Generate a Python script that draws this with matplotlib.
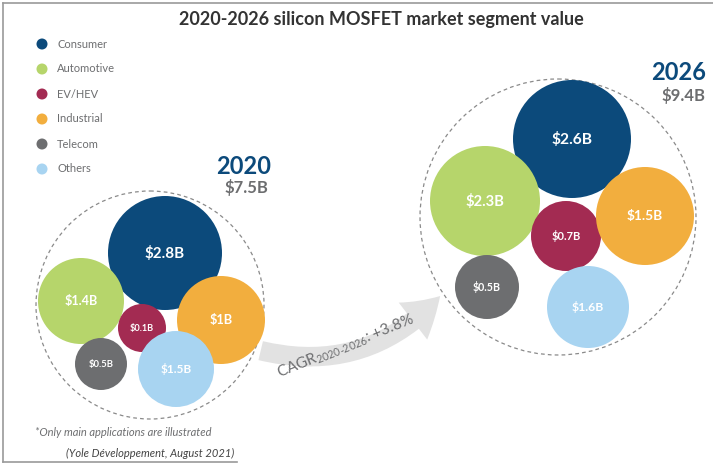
"""
2020-2026 silicon MOSFET market segment value - bubble infographic
"""

import matplotlib
matplotlib.use('Agg')
import matplotlib.pyplot as plt
from matplotlib.patches import Circle, FancyArrowPatch

# Data
segments = ['Consumer', 'Automotive', 'EV/HEV', 'Industrial', 'Telecom', 'Others']
colors = ['#0c4a7b', '#b6d56b', '#a32b52', '#f2ae3e', '#6d6e70', '#a8d4f1']
values_2020 = [2.8, 1.4, 0.1, 1.0, 0.5, 1.5]
values_2026 = [2.6, 2.3, 0.7, 1.5, 0.5, 1.6]
labels_2020 = ['$2.8B', '$1.4B', '$0.1B', '$1B', '$0.5B', '$1.5B']
labels_2026 = ['$2.6B', '$2.3B', '$0.7B', '$1.5B', '$0.5B', '$1.6B']
total_2020 = '$7.5B'
total_2026 = '$9.4B'
cagr = '+3.8%'

# Layout (pixel space, infographic bubbles are not to scale)
centers_2020 = [(165, 253), (81, 301), (142, 328), (221, 320), (101, 364), (176, 369)]
radii_2020 = [57, 43, 24, 44, 26, 38]
centers_2026 = [(572, 139), (485, 201), (566, 236), (645, 216), (487, 287), (588, 307)]
radii_2026 = [59, 55, 35, 49, 32, 41]

W, H = 713, 469
fig = plt.figure(figsize=(W / 100, H / 100), dpi=100)
ax = fig.add_axes([0, 0, 1, 1])
ax.set_xlim(0, W)
ax.set_ylim(H, 0)
ax.axis('off')

FONT = 'Lato'
GREY = '#6d6e70'
DARK = '#0c4a7b'

# Frame
ax.plot([3, 3], [3, 462], color='#9a9a9a', lw=1.2)
ax.plot([3, W], [3, 3], color='#9a9a9a', lw=1.2)
ax.plot([3, 237], [462, 462], color='#9a9a9a', lw=1.2)

# Title
ax.text(381, 20, '2020-2026 silicon MOSFET market segment value', ha='center', va='center',
        fontsize=13, fontweight='bold', color='#333333', family=FONT)

# Legend
for i, (seg, col) in enumerate(zip(segments, colors)):
    y = 44 + i * 25
    ax.add_patch(Circle((42, y), 5.5, color=col, lw=0))
    ax.text(57, y, seg, ha='left', va='center', fontsize=8, color=GREY, family=FONT)


def draw_group(centers, radii, labels, big_center, big_r):
    ax.add_patch(Circle(big_center, big_r, fill=False, ec='#8a8a8a', lw=0.9,
                        ls=(0, (3, 2.5))))
    for (cx, cy), r, lab, col in zip(centers, radii, labels, colors):
        ax.add_patch(Circle((cx, cy), r, color=col, lw=0))
        ax.text(cx, cy, lab, ha='center', va='center', color='white',
                fontsize=3.5 + r * 0.13, fontweight='bold', family=FONT)


draw_group(centers_2020, radii_2020, labels_2020, (150, 305), 114)
draw_group(centers_2026, radii_2026, labels_2026, (558, 217), 138)

# Year headers
ax.text(271, 166, '2020', ha='right', va='center', fontsize=17, fontweight='bold',
        color=DARK, family=FONT)
ax.text(268, 188, total_2020, ha='right', va='center', fontsize=12, fontweight='bold',
        color=GREY, family=FONT)
ax.text(706, 72, '2026', ha='right', va='center', fontsize=17, fontweight='bold',
        color=DARK, family=FONT)
ax.text(705, 96, total_2026, ha='right', va='center', fontsize=12, fontweight='bold',
        color=GREY, family=FONT)

# CAGR arrow
arrow = FancyArrowPatch((258, 350), (442, 294), connectionstyle='arc3,rad=0.3',
                        arrowstyle='simple,head_length=1.9,head_width=2.4,tail_width=1.0',
                        mutation_scale=14, color='#e2e2e2', lw=0, zorder=1)
ax.add_patch(arrow)
ax.text(346, 346, r'CAGR$_{\mathregular{2020\text{-}2026}}$: ' + cagr, ha='center', va='center',
        rotation=22, fontsize=11, color=GREY, family=FONT, zorder=2)

# Footnotes
ax.text(35, 432, '*Only main applications are illustrated', ha='left', va='center',
        fontsize=8, style='italic', color=GREY, family=FONT)
ax.text(234, 453, '(Yole Développement, August 2021)', ha='right', va='center',
        fontsize=8, style='italic', color='#444444', family=FONT)

plt.savefig('out.png', dpi=100)
plt.close()
